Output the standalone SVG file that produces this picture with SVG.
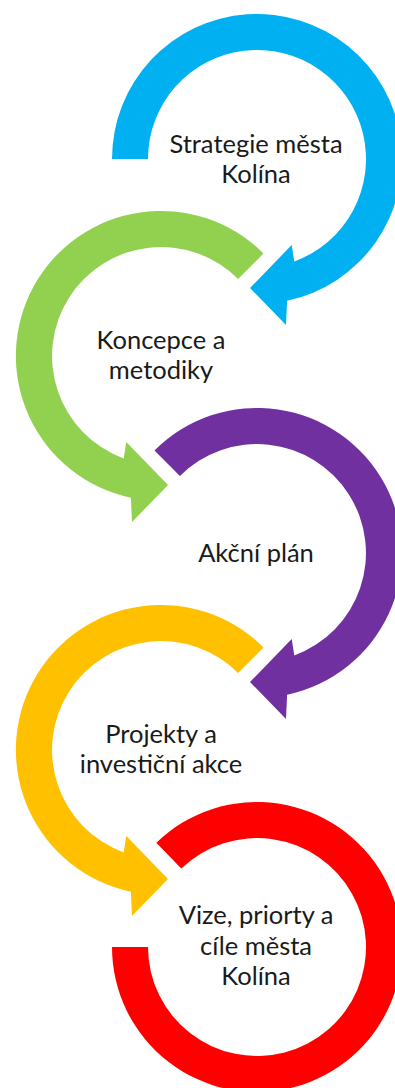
<svg xmlns="http://www.w3.org/2000/svg" width="395" height="1088" viewBox="0 0 395 1088">
  <style>
    .lbl { font-family: Lato, "Liberation Sans", sans-serif; font-size: 25.5px; fill: #1a1a1a; text-anchor: middle; }
    .blue { fill: #00B0F0; }
    .green { fill: #92D050; }
    .purple { fill: #7030A0; }
    .yellow { fill: #FFC000; }
    .red { fill: #FF0000; }
  </style>
  <defs>
    <path id="arrowA" d="M -102.5,-102.5 A145,145 0 1 1 30.1,141.8 L 29,166 L -7,129 L 34.7,86 L 37.3,102.4 A109,109 0 1 0 -77.1,-77.1 Z"/>
  </defs>
  <rect width="395" height="1088" fill="#ffffff"/>
  <g id="connectors"/>
  <g id="node-strategie">
    <path class="blue" transform="translate(257,159)" d="M -145,0 A145,145 0 1 1 30.1,141.8 L 29,166 L -7,129 L 34.7,86 L 37.3,102.4 A109,109 0 1 0 -109,0 Z"/>
    <text class="lbl" x="256" y="153">Strategie města</text>
    <text class="lbl" x="256" y="183">Kolína</text>
  </g>
  <g id="node-koncepce">
    <use href="#arrowA" class="green" transform="translate(161,356) scale(-1,1)"/>
    <text class="lbl" x="161" y="349">Koncepce a</text>
    <text class="lbl" x="161" y="379">metodiky</text>
  </g>
  <g id="node-akcni-plan">
    <use href="#arrowA" class="purple" transform="translate(257,553)"/>
    <text class="lbl" x="256" y="562">Akční plán</text>
  </g>
  <g id="node-projekty">
    <use href="#arrowA" class="yellow" transform="translate(161,750) scale(-1,1)"/>
    <text class="lbl" x="161" y="743">Projekty a</text>
    <text class="lbl" x="161" y="773">investiční akce</text>
  </g>
  <g id="node-vize">
    <path class="red" transform="translate(257,947)" d="M -145,0 A145,145 0 1 0 -100.7,-104.3 L -75.7,-78.4 A109,109 0 1 1 -109,0 Z"/>
    <text class="lbl" x="256" y="924">Vize, priorty a</text>
    <text class="lbl" x="256" y="955">cíle města</text>
    <text class="lbl" x="256" y="985">Kolína</text>
  </g>
</svg>
